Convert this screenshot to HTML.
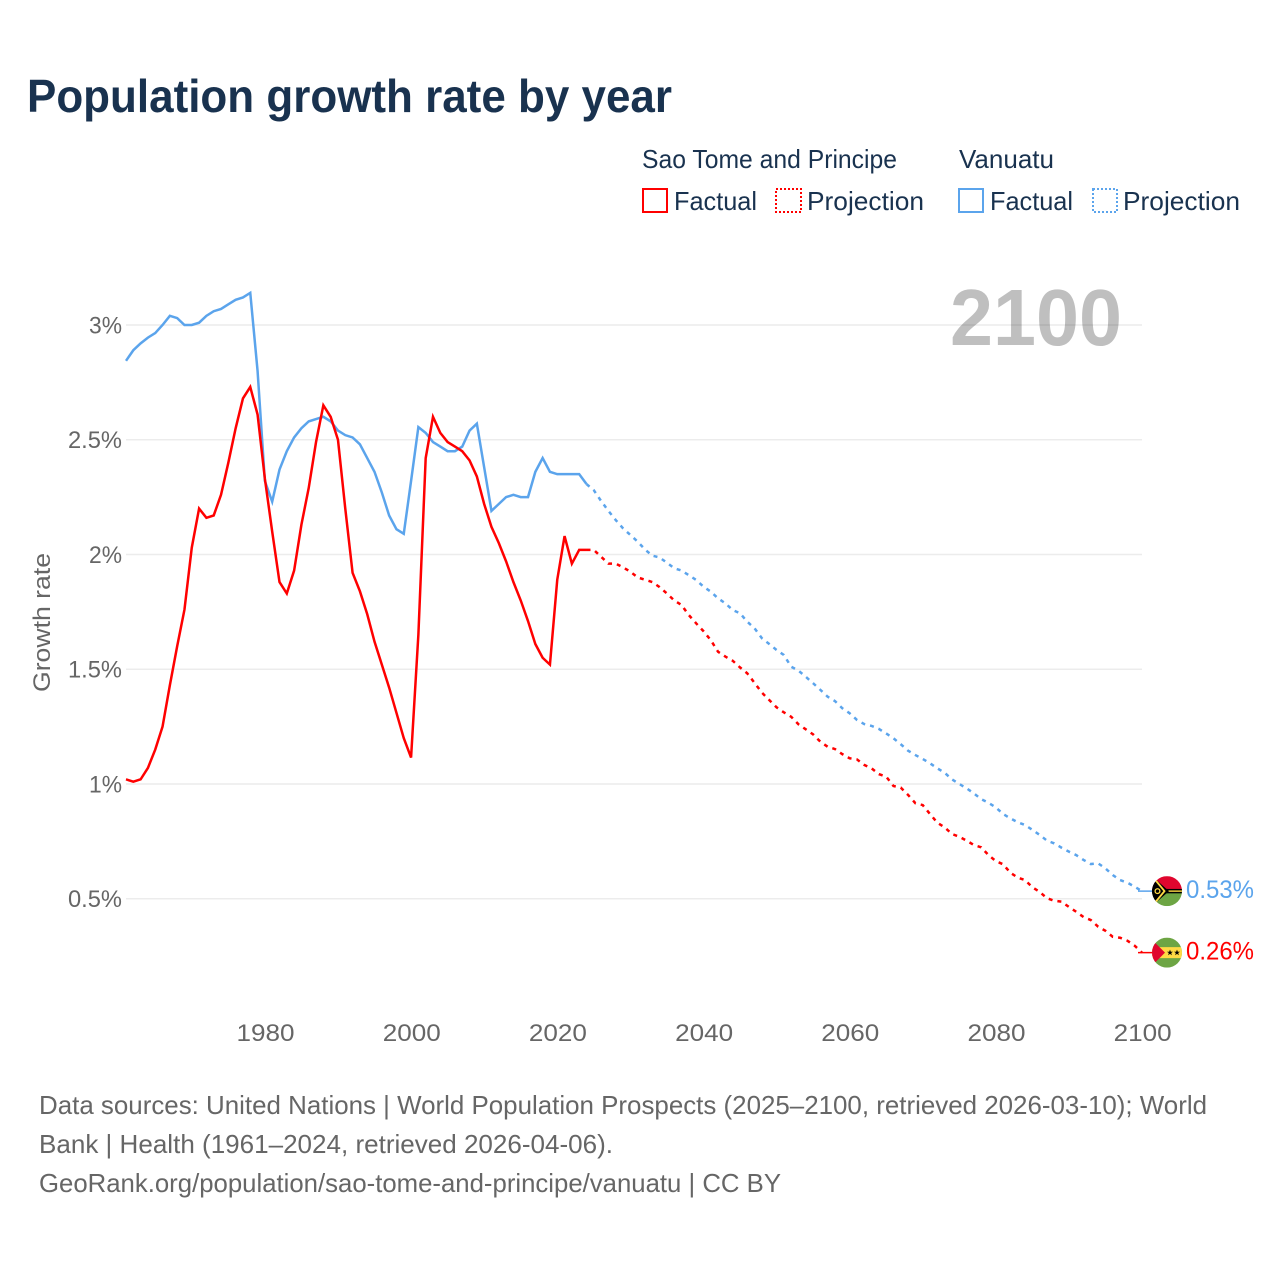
<!DOCTYPE html>
<html lang="en">
<head>
<meta charset="utf-8">
<title>Population growth rate by year</title>
<style>
html,body{margin:0;padding:0;background:#fff;}
svg{display:block;font-family:"Liberation Sans",sans-serif;}
</style>
</head>
<body>
<svg id="chart" xmlns="http://www.w3.org/2000/svg" width="1280" height="1280" viewBox="0 0 1280 1280">
  <defs>
    <clipPath id="flag-clip"><circle cx="0" cy="0" r="15"></circle></clipPath>
  </defs>
  <rect x="0" y="0" width="1280" height="1280" fill="#ffffff"></rect>
  <text x="27" y="112" font-size="46" font-weight="700" fill="#19324f" textLength="645" lengthAdjust="spacingAndGlyphs">Population growth rate by year</text>

  <g font-size="26" fill="#19324f">
    <text x="642" y="168" textLength="255" lengthAdjust="spacingAndGlyphs">Sao Tome and Principe</text>
    <text x="959" y="168" textLength="95" lengthAdjust="spacingAndGlyphs">Vanuatu</text>
    <g>
      <rect x="643" y="189" width="24" height="23" fill="none" stroke="#ff0000" stroke-width="2"></rect>
      <text x="674" y="210" textLength="83" lengthAdjust="spacingAndGlyphs">Factual</text>
    </g>
    <g>
      <rect x="776" y="189" width="25" height="23" fill="none" stroke="#ff0000" stroke-width="2" stroke-dasharray="2 2"></rect>
      <text x="807" y="210" textLength="117" lengthAdjust="spacingAndGlyphs">Projection</text>
    </g>
    <g>
      <rect x="959" y="189" width="24" height="23" fill="none" stroke="#5ba4ec" stroke-width="2"></rect>
      <text x="990" y="210" textLength="83" lengthAdjust="spacingAndGlyphs">Factual</text>
    </g>
    <g>
      <rect x="1093" y="189" width="24" height="23" fill="none" stroke="#5ba4ec" stroke-width="2" stroke-dasharray="2 2"></rect>
      <text x="1123" y="210" textLength="117" lengthAdjust="spacingAndGlyphs">Projection</text>
    </g>
  </g>

  <g id="grid"></g>
  <text x="950" y="345" font-size="80" font-weight="700" fill="#000000" fill-opacity="0.25" textLength="172" lengthAdjust="spacingAndGlyphs">2100</text>
  <g id="y-ticks" font-size="24" fill="#666666" text-anchor="end"></g>
  <g id="x-ticks" font-size="24" fill="#666666" text-anchor="middle"></g>
  <text transform="translate(50,622.5) rotate(-90)" font-size="24" fill="#666666" text-anchor="middle" textLength="139" lengthAdjust="spacingAndGlyphs">Growth rate</text>

  <g id="series"></g>

  <g id="flag-vanuatu" clip-path="url(#flag-clip)">
    <rect x="-15" y="-15" width="30" height="15" fill="#e0062e"></rect>
    <rect x="-15" y="0" width="30" height="15" fill="#6da544"></rect>
    <rect x="-15" y="-2.2" width="30" height="4.4" fill="#000000"></rect>
    <rect x="-15" y="-0.7" width="30" height="1.4" fill="#ffda44"></rect>
    <polygon points="-15,-15 2,0 -15,15" fill="#000000"></polygon>
    <polyline points="-14,-14 -2.5,0 -14,14" fill="none" stroke="#ffda44" stroke-width="1.8"></polyline>
    <circle cx="-9.5" cy="0" r="2.4" fill="none" stroke="#ffda44" stroke-width="1.3"></circle>
  </g>
  <g id="flag-sao-tome" clip-path="url(#flag-clip)">
    <rect x="-15" y="-15" width="30" height="30" fill="#6da544"></rect>
    <rect x="-15" y="-5.5" width="30" height="11" fill="#ffda44"></rect>
    <polygon points="-15,-13 -2,0 -15,13" fill="#e0062e"></polygon>
    <polygon points="3,-3 3.8,-0.9 6,-0.9 4.2,0.4 4.9,2.6 3,1.3 1.1,2.6 1.8,0.4 0,-0.9 2.2,-0.9" fill="#000000"></polygon>
    <polygon points="10,-3 10.8,-0.9 13,-0.9 11.2,0.4 11.9,2.6 10,1.3 8.1,2.6 8.8,0.4 7,-0.9 9.2,-0.9" fill="#000000"></polygon>
  </g>

  <text id="end-label-vanuatu" x="1186" font-size="25" fill="#5ba4ec" textLength="68" lengthAdjust="spacingAndGlyphs"></text>
  <text id="end-label-sao-tome" x="1186" font-size="25" fill="#ff0000" textLength="68" lengthAdjust="spacingAndGlyphs"></text>

  <g font-size="26" fill="#666666">
    <text x="39" y="1114" textLength="1168" lengthAdjust="spacingAndGlyphs">Data sources: United Nations | World Population Prospects (2025–2100, retrieved 2026-03-10); World</text>
    <text x="39" y="1153" textLength="574" lengthAdjust="spacingAndGlyphs">Bank | Health (1961–2024, retrieved 2026-04-06).</text>
    <text x="39" y="1192" textLength="742" lengthAdjust="spacingAndGlyphs">GeoRank.org/population/sao-tome-and-principe/vanuatu | CC BY</text>
  </g>
</svg>

<script>
const yTickValues = [0.5, 1, 1.5, 2, 2.5, 3];
const yTickLabels = ["0.5%", "1%", "1.5%", "2%", "2.5%", "3%"];
const xTickYears = [1980, 2000, 2020, 2040, 2060, 2080, 2100];
const firstFactualYear = 1961;
const firstProjectionYear = 2025;

const saoTomeFactual = [
  1.02,1.01,1.02,1.07,1.15,1.25,1.43,1.6,1.76,
  2.03,2.2,2.16,2.17,2.26,2.4,2.55,2.68,2.73,2.61,
  2.33,2.1,1.88,1.83,1.93,2.13,2.29,2.49,2.65,2.6,
  2.5,2.2,1.92,1.84,1.74,1.62,1.52,1.42,1.31,1.2,
  1.115,1.65,2.42,2.6,2.53,2.49,2.47,2.45,2.41,2.34,
  2.22,2.12,2.05,1.97,1.88,1.8,1.71,1.61,1.55,1.52,
  1.89,2.08,1.96,2.02,2.02
];
const vanuatuFactual = [
  2.844,2.89,2.92,2.945,2.965,3.0,3.04,3.03,3.0,
  3.0,3.01,3.04,3.06,3.07,3.09,3.11,3.12,3.14,2.8,
  2.32,2.23,2.37,2.45,2.51,2.55,2.58,2.59,2.6,2.58,
  2.54,2.52,2.51,2.48,2.42,2.36,2.27,2.17,2.11,2.09,
  2.32,2.555,2.53,2.49,2.47,2.45,2.45,2.47,2.54,2.57,
  2.38,2.19,2.22,2.25,2.26,2.25,2.25,2.36,2.42,2.36,
  2.35,2.35,2.35,2.35,2.307
];
const saoTomeProjection = [
  2.02,1.99,1.96,1.96,1.944,1.925,1.90,1.89,1.88,1.858,1.83,1.80,1.78,1.736,1.70,
  1.666,1.627,1.576,1.555,1.537,1.508,1.482,1.44,1.398,1.366,1.334,1.312,1.293,1.26,1.238,
  1.216,1.184,1.162,1.152,1.13,1.112,1.107,1.083,1.068,1.043,1.032,0.991,0.984,0.952,0.916,
  0.908,0.869,0.831,0.811,0.782,0.77,0.753,0.734,0.724,0.69,0.664,0.65,0.613,0.592,0.581,
  0.55,0.53,0.502,0.491,0.487,0.464,0.443,0.42,0.407,0.378,0.36,0.334,0.33,0.317,0.295,0.265
];
const vanuatuProjection = [
  2.28,2.233,2.19,2.15,2.114,2.085,2.056,2.022,1.995,1.987,1.964,1.94,1.93,1.91,1.889,
  1.86,1.838,1.809,1.787,1.758,1.744,1.707,1.678,1.635,1.61,1.584,1.562,1.511,1.494,1.467,
  1.439,1.41,1.38,1.361,1.33,1.308,1.279,1.261,1.253,1.24,1.22,1.199,1.173,1.145,1.126,
  1.109,1.09,1.068,1.049,1.02,1.0,0.981,0.959,0.934,0.918,0.898,0.869,0.85,0.833,0.821,
  0.8,0.778,0.753,0.741,0.722,0.705,0.69,0.669,0.651,0.654,0.632,0.603,0.581,0.57,0.552,0.533
];
const endValueLabels = ["0.53%", "0.26%"];

const SVG_NS = "http://www.w3.org/2000/svg";
const PLOT_LEFT = 126, PLOT_RIGHT = 1142;
const RED = "#ff0000", BLUE = "#5ba4ec";

function xScale(year) {
  return PLOT_LEFT + (year - 1961) * (PLOT_RIGHT - PLOT_LEFT) / (2100 - 1961);
}
function yScale(value) {
  return 898.7 - (value - 0.5) * 229.48;
}
function seriesPath(startYear, values) {
  return values.map(function (v, i) {
    return (i ? "L" : "M") + xScale(startYear + i).toFixed(2) + " " + yScale(v).toFixed(2);
  }).join(" ");
}

const gridGroup = document.getElementById("grid");
const yTickGroup = document.getElementById("y-ticks");
const xTickGroup = document.getElementById("x-ticks");
const seriesGroup = document.getElementById("series");

yTickValues.forEach(function (value, i) {
  const y = yScale(value);
  const line = document.createElementNS(SVG_NS, "line");
  
  
  line.setAttribute("x1", PLOT_LEFT);
  line.setAttribute("x2", PLOT_RIGHT);
  line.setAttribute("y1", y);
  line.setAttribute("y2", y);
  line.setAttribute("stroke", "#ececec");
  line.setAttribute("stroke-width", "1.5");
  gridGroup.appendChild(line);

  const label = document.createElementNS(SVG_NS, "text");
  
  
  label.setAttribute("x", 122);
  label.setAttribute("y", y + 8.5);
  label.textContent = yTickLabels[i];
  const widths = {"0.5%": 54, "1%": 33, "1.5%": 54, "2%": 33, "2.5%": 54, "3%": 33};
  label.setAttribute("textLength", widths[yTickLabels[i]]);
  label.setAttribute("lengthAdjust", "spacingAndGlyphs");
  yTickGroup.appendChild(label);
});

xTickYears.forEach(function (year) {
  const label = document.createElementNS(SVG_NS, "text");
  
  
  label.setAttribute("x", xScale(year) + 0.7);
  label.setAttribute("y", 1041);
  label.setAttribute("textLength", 58);
  label.setAttribute("lengthAdjust", "spacingAndGlyphs");
  label.textContent = String(year);
  xTickGroup.appendChild(label);
});

function addFactual(name, values, color) {
  const path = document.createElementNS(SVG_NS, "path");
  
  
  path.setAttribute("d", seriesPath(firstFactualYear, values));
  path.setAttribute("fill", "none");
  path.setAttribute("stroke", color);
  path.setAttribute("stroke-width", "2.5");
  path.setAttribute("stroke-linejoin", "miter");
  seriesGroup.appendChild(path);
}
function addProjection(name, factual, values, color) {
  const lastFactual = factual[factual.length - 1];
  const joined = [lastFactual].concat(values);
  const path = document.createElementNS(SVG_NS, "path");
  
  
  path.setAttribute("d", seriesPath(firstProjectionYear - 1, joined));
  path.setAttribute("fill", "none");
  path.setAttribute("stroke", color);
  path.setAttribute("stroke-width", "2.5");
  path.setAttribute("stroke-dasharray", "4 5");
  seriesGroup.appendChild(path);
}
function addConnector(name, value, color) {
  const y = yScale(value);
  const line = document.createElementNS(SVG_NS, "line");
  
  
  line.setAttribute("x1", xScale(2100) - 4);
  line.setAttribute("x2", xScale(2100) + 10);
  line.setAttribute("y1", y);
  line.setAttribute("y2", y);
  line.setAttribute("stroke", color);
  line.setAttribute("stroke-width", "1.5");
  seriesGroup.appendChild(line);
}

addFactual("vanuatu-factual-line", vanuatuFactual, BLUE);
addFactual("sao-tome-factual-line", saoTomeFactual, RED);
addProjection("vanuatu-projection-line", vanuatuFactual, vanuatuProjection, BLUE);
addProjection("sao-tome-projection-line", saoTomeFactual, saoTomeProjection, RED);

const vanuatuEnd = vanuatuProjection[vanuatuProjection.length - 1];
const saoTomeEnd = saoTomeProjection[saoTomeProjection.length - 1];
addConnector("vanuatu-end-connector", vanuatuEnd, BLUE);
addConnector("sao-tome-end-connector", saoTomeEnd, RED);

const flagX = xScale(2100) + 25;
document.getElementById("flag-vanuatu").setAttribute("transform", "translate(" + flagX + "," + yScale(vanuatuEnd) + ")");
document.getElementById("flag-sao-tome").setAttribute("transform", "translate(" + flagX + "," + yScale(saoTomeEnd) + ")");

const endVanuatu = document.getElementById("end-label-vanuatu");
endVanuatu.setAttribute("y", yScale(vanuatuEnd) + 7);
endVanuatu.textContent = endValueLabels[0];
const endSaoTome = document.getElementById("end-label-sao-tome");
endSaoTome.setAttribute("y", yScale(saoTomeEnd) + 7);
endSaoTome.textContent = endValueLabels[1];
</script>
</body>
</html>
